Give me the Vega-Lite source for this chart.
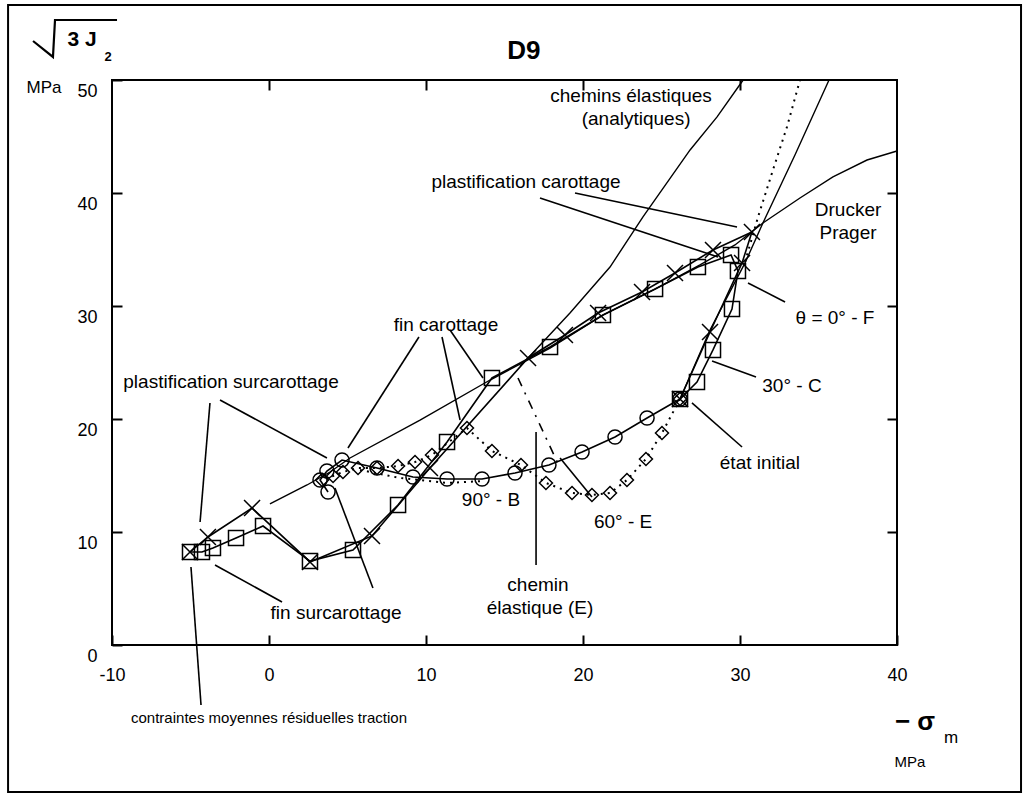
{
  "$schema": "https://vega.github.io/schema/vega-lite/v6.json",
  "width": 785,
  "height": 565,
  "autosize": {"type": "none"},
  "padding": {"left": 112, "top": 80, "right": 130, "bottom": 153},
  "background": "white",
  "config": {"view": {"stroke": "black", "strokeWidth": 2}, "font": "Liberation Sans"},
  "datasets": {
    "paths": [
      {"s": "F", "o": 1, "x": 26.18, "y": 21.77},
      {"s": "F", "o": 2, "x": 28.09, "y": 27.7},
      {"s": "F", "o": 3, "x": 30.13, "y": 33.81},
      {"s": "F", "o": 4, "x": 30.76, "y": 36.55},
      {"s": "F", "o": 5, "x": 28.28, "y": 34.96},
      {"s": "F", "o": 6, "x": 25.86, "y": 32.92},
      {"s": "F", "o": 7, "x": 23.76, "y": 31.24},
      {"s": "F", "o": 8, "x": 20.96, "y": 29.38},
      {"s": "F", "o": 9, "x": 18.85, "y": 27.43},
      {"s": "F", "o": 10, "x": 16.5, "y": 25.4},
      {"s": "F", "o": 11, "x": 10.25, "y": 15.66},
      {"s": "F", "o": 12, "x": 6.56, "y": 9.65},
      {"s": "F", "o": 13, "x": 2.61, "y": 7.35},
      {"s": "F", "o": 14, "x": -1.08, "y": 12.12},
      {"s": "F", "o": 15, "x": -3.89, "y": 9.56},
      {"s": "F", "o": 16, "x": -5.03, "y": 8.23},
      {"s": "C", "o": 1, "x": 26.18, "y": 21.77},
      {"s": "C", "o": 2, "x": 27.26, "y": 23.27},
      {"s": "C", "o": 3, "x": 28.28, "y": 26.11},
      {"s": "C", "o": 4, "x": 29.49, "y": 29.73},
      {"s": "C", "o": 5, "x": 29.87, "y": 33.1},
      {"s": "C", "o": 6, "x": 29.43, "y": 34.51},
      {"s": "C", "o": 7, "x": 27.32, "y": 33.45},
      {"s": "C", "o": 8, "x": 24.59, "y": 31.5},
      {"s": "C", "o": 9, "x": 21.27, "y": 29.2},
      {"s": "C", "o": 10, "x": 17.9, "y": 26.37},
      {"s": "C", "o": 11, "x": 14.2, "y": 23.63},
      {"s": "C", "o": 12, "x": 11.34, "y": 17.96},
      {"s": "C", "o": 13, "x": 8.22, "y": 12.39},
      {"s": "C", "o": 14, "x": 5.35, "y": 8.41},
      {"s": "C", "o": 15, "x": 2.61, "y": 7.43},
      {"s": "C", "o": 16, "x": -0.38, "y": 10.53},
      {"s": "C", "o": 17, "x": -2.1, "y": 9.47},
      {"s": "C", "o": 18, "x": -3.57, "y": 8.58},
      {"s": "C", "o": 19, "x": -4.27, "y": 8.23},
      {"s": "C", "o": 20, "x": -5.03, "y": 8.23},
      {"s": "B", "o": 1, "x": 26.18, "y": 21.77},
      {"s": "B", "o": 2, "x": 24.08, "y": 20.09},
      {"s": "B", "o": 3, "x": 22.04, "y": 18.41},
      {"s": "B", "o": 4, "x": 19.94, "y": 17.08},
      {"s": "B", "o": 5, "x": 17.83, "y": 15.93},
      {"s": "B", "o": 6, "x": 15.67, "y": 15.22},
      {"s": "B", "o": 7, "x": 13.57, "y": 14.69},
      {"s": "B", "o": 8, "x": 11.34, "y": 14.69},
      {"s": "B", "o": 9, "x": 9.17, "y": 14.87},
      {"s": "B", "o": 10, "x": 6.88, "y": 15.66},
      {"s": "B", "o": 11, "x": 4.65, "y": 16.37},
      {"s": "B", "o": 12, "x": 3.69, "y": 15.4},
      {"s": "B", "o": 13, "x": 3.25, "y": 14.6},
      {"s": "B", "o": 14, "x": 3.76, "y": 13.54},
      {"s": "E", "o": 1, "x": 26.18, "y": 21.77},
      {"s": "E", "o": 2, "x": 25.03, "y": 18.76},
      {"s": "E", "o": 3, "x": 24.01, "y": 16.46},
      {"s": "E", "o": 4, "x": 22.8, "y": 14.6},
      {"s": "E", "o": 5, "x": 21.72, "y": 13.45},
      {"s": "E", "o": 6, "x": 20.57, "y": 13.27},
      {"s": "E", "o": 7, "x": 19.3, "y": 13.45},
      {"s": "E", "o": 8, "x": 17.64, "y": 14.34},
      {"s": "E", "o": 9, "x": 16.05, "y": 15.93},
      {"s": "E", "o": 10, "x": 14.2, "y": 17.17},
      {"s": "E", "o": 11, "x": 12.61, "y": 19.2},
      {"s": "E", "o": 12, "x": 10.38, "y": 16.81},
      {"s": "E", "o": 13, "x": 9.3, "y": 16.19},
      {"s": "E", "o": 14, "x": 8.22, "y": 15.84},
      {"s": "E", "o": 15, "x": 6.88, "y": 15.66},
      {"s": "E", "o": 16, "x": 5.67, "y": 15.66},
      {"s": "E", "o": 17, "x": 4.71, "y": 15.31},
      {"s": "E", "o": 18, "x": 4.08, "y": 14.96},
      {"s": "E", "o": 19, "x": 3.38, "y": 14.6},
      {"s": "DP", "o": 1, "x": 0.06, "y": 12.48},
      {"s": "DP", "o": 2, "x": 2.42, "y": 14.16},
      {"s": "DP", "o": 3, "x": 3.89, "y": 15.31},
      {"s": "DP", "o": 4, "x": 5.16, "y": 16.55},
      {"s": "DP", "o": 5, "x": 9.62, "y": 19.91},
      {"s": "DP", "o": 6, "x": 14.08, "y": 23.45},
      {"s": "DP", "o": 7, "x": 17.9, "y": 26.28},
      {"s": "DP", "o": 8, "x": 21.27, "y": 29.2},
      {"s": "DP", "o": 9, "x": 24.59, "y": 31.5},
      {"s": "DP", "o": 10, "x": 27.45, "y": 33.63},
      {"s": "DP", "o": 11, "x": 29.68, "y": 35.4},
      {"s": "DP", "o": 12, "x": 31.46, "y": 37.35},
      {"s": "DP", "o": 13, "x": 33.82, "y": 39.56},
      {"s": "DP", "o": 14, "x": 35.92, "y": 41.42},
      {"s": "DP", "o": 15, "x": 38.09, "y": 42.92},
      {"s": "DP", "o": 16, "x": 40.0, "y": 43.72},
      {"s": "A1", "o": 1, "x": 16.5, "y": 25.4},
      {"s": "A1", "o": 2, "x": 19.17, "y": 29.38},
      {"s": "A1", "o": 3, "x": 21.72, "y": 33.45},
      {"s": "A1", "o": 4, "x": 23.82, "y": 37.88},
      {"s": "A1", "o": 5, "x": 26.82, "y": 43.81},
      {"s": "A1", "o": 6, "x": 28.54, "y": 46.73},
      {"s": "A1", "o": 7, "x": 30.2, "y": 50.0},
      {"s": "A2", "o": 1, "x": 26.18, "y": 21.77},
      {"s": "A2", "o": 2, "x": 28.09, "y": 27.88},
      {"s": "A2", "o": 3, "x": 30.32, "y": 33.81},
      {"s": "A2", "o": 4, "x": 31.46, "y": 37.35},
      {"s": "A2", "o": 5, "x": 33.5, "y": 43.36},
      {"s": "A2", "o": 6, "x": 35.67, "y": 50.0},
      {"s": "D", "o": 1, "x": 30.32, "y": 33.89},
      {"s": "D", "o": 2, "x": 31.15, "y": 37.88},
      {"s": "D", "o": 3, "x": 32.1, "y": 42.04},
      {"s": "D", "o": 4, "x": 32.99, "y": 45.84},
      {"s": "D", "o": 5, "x": 33.82, "y": 50.0},
      {"s": "B2", "o": 1, "x": 5.8, "y": 15.49},
      {"s": "B2", "o": 2, "x": 8.34, "y": 14.78},
      {"s": "B2", "o": 3, "x": 11.34, "y": 14.34},
      {"s": "B2", "o": 4, "x": 13.57, "y": 14.51},
      {"s": "EE", "o": 1, "x": 15.86, "y": 23.63},
      {"s": "EE", "o": 2, "x": 18.54, "y": 15.66}
    ],
    "leaders": [
      {"x": 19.49, "y": 40.0, "x2": 29.81, "y2": 36.99},
      {"x": 17.26, "y": 39.56, "x2": 28.6, "y2": 34.34},
      {"x": 30.51, "y": 32.04, "x2": 32.87, "y2": 30.35},
      {"x": 28.22, "y": 25.13, "x2": 31.02, "y2": 23.72},
      {"x": 26.94, "y": 21.42, "x2": 30.13, "y2": 17.52},
      {"x": 9.55, "y": 27.26, "x2": 5.03, "y2": 17.43},
      {"x": 11.02, "y": 27.26, "x2": 12.17, "y2": 19.91},
      {"x": 11.53, "y": 27.88, "x2": 13.63, "y2": 23.63},
      {"x": -3.76, "y": 21.42, "x2": -4.39, "y2": 10.88},
      {"x": -3.12, "y": 21.68, "x2": 3.69, "y2": 16.55},
      {"x": 18.54, "y": 16.55, "x2": 20.57, "y2": 13.1},
      {"x": 17.01, "y": 18.85, "x2": 17.01, "y2": 7.08},
      {"x": -3.44, "y": 7.08, "x2": 0.83, "y2": 3.81},
      {"x": 4.2, "y": 13.89, "x2": 6.62, "y2": 5.04},
      {"x": -4.97, "y": 6.9, "x2": -4.33, "y2": -5.31}
    ],
    "radical": [
      {"o": 1, "x": -15.03, "y": 53.45},
      {"o": 2, "x": -13.76, "y": 52.04},
      {"o": 3, "x": -13.63, "y": 55.31},
      {"o": 4, "x": -9.68, "y": 55.31}
    ],
    "labels": [
      {"t": "chemins élastiques", "x": 23.06, "y": 48.58},
      {"t": "(analytiques)", "x": 23.38, "y": 46.55},
      {"t": "plastification carottage", "x": 16.37, "y": 40.97},
      {"t": "Drucker", "x": 36.88, "y": 38.5},
      {"t": "Prager", "x": 36.88, "y": 36.46},
      {"t": "θ = 0° - F", "x": 36.05, "y": 28.94},
      {"t": "30° - C", "x": 33.31, "y": 22.92},
      {"t": "état initial", "x": 31.27, "y": 16.11},
      {"t": "fin carottage", "x": 11.27, "y": 28.32},
      {"t": "plastification surcarottage", "x": -2.42, "y": 23.27},
      {"t": "90° - B", "x": 14.14, "y": 12.83},
      {"t": "60° - E", "x": 22.55, "y": 10.88},
      {"t": "chemin", "x": 17.13, "y": 5.31},
      {"t": "élastique (E)", "x": 17.26, "y": 3.27},
      {"t": "fin surcarottage", "x": 4.27, "y": 2.83}
    ]
  },
  "layer": [
    {
      "data": {"values": [{"x": -16.62, "x2": 47.9, "y": 56.64, "y2": -13.01}]},
      "mark": {"type": "rect", "fillOpacity": 0, "stroke": "black", "strokeWidth": 2},
      "encoding": {
        "x": {"field": "x", "type": "quantitative", "scale": {"domain": [-10, 40], "nice": false, "zero": false}, "axis": null},
        "x2": {"field": "x2"},
        "y": {"field": "y", "type": "quantitative", "scale": {"domain": [0, 50], "nice": false, "zero": false}, "axis": null},
        "y2": {"field": "y2"}
      }
    },
    {
      "data": {"name": "paths"},
      "transform": [{"filter": "datum.s == 'DP'"}],
      "mark": {"type": "line", "stroke": "black", "strokeWidth": 1.4},
      "encoding": {
        "x": {"field": "x", "type": "quantitative", "scale": {"domain": [-10, 40], "nice": false, "zero": false},
          "axis": {"orient": "bottom", "values": [-10, 0, 10, 20, 30, 40], "tickSize": -10, "tickWidth": 2, "tickColor": "black", "domain": false, "grid": false, "labelFontSize": 18, "labelColor": "black", "labelPadding": 31, "labelDx": -5, "labelFlush": false, "labelOverlap": false, "labelBound": false, "title": null, "labelExpr": "'' + datum.value"}},
        "y": {"field": "y", "type": "quantitative", "scale": {"domain": [0, 50], "nice": false, "zero": false},
          "axis": {"orient": "left", "values": [0, 10, 20, 30, 40, 50], "tickSize": -10, "tickWidth": 2, "tickColor": "black", "domain": false, "grid": false, "labelFontSize": 18, "labelColor": "black", "labelPadding": 25, "labelOffset": 11, "labelFlush": false, "labelOverlap": false, "labelBound": false, "title": null}},
        "order": {"field": "o", "type": "quantitative"}
      }
    },
    {
      "data": {"name": "paths"},
      "transform": [{"filter": "datum.s == 'A1' || datum.s == 'A2'"}],
      "mark": {"type": "line", "stroke": "black", "strokeWidth": 1.4},
      "encoding": {
        "x": {"field": "x", "type": "quantitative", "scale": {"domain": [-10, 40], "nice": false, "zero": false},
          "axis": {"orient": "top", "values": [0, 10, 20, 30], "tickSize": -10, "tickWidth": 2, "tickColor": "black", "domain": false, "grid": false, "labels": false, "title": null}},
        "y": {"field": "y", "type": "quantitative", "scale": {"domain": [0, 50], "nice": false, "zero": false},
          "axis": {"orient": "right", "values": [10, 20, 30, 40], "tickSize": -10, "tickWidth": 2, "tickColor": "black", "domain": false, "grid": false, "labels": false, "title": null}},
        "detail": {"field": "s"},
        "order": {"field": "o", "type": "quantitative"}
      }
    },
    {
      "data": {"name": "paths"},
      "transform": [{"filter": "datum.s == 'F' || datum.s == 'C' || datum.s == 'B'"}],
      "mark": {"type": "line", "stroke": "black", "strokeWidth": 1.6},
      "encoding": {
        "x": {"field": "x", "type": "quantitative", "scale": {"domain": [-10, 40], "nice": false, "zero": false}, "axis": null},
        "y": {"field": "y", "type": "quantitative", "scale": {"domain": [0, 50], "nice": false, "zero": false}, "axis": null},
        "detail": {"field": "s"},
        "order": {"field": "o", "type": "quantitative"}
      }
    },
    {
      "data": {"name": "paths"},
      "transform": [{"filter": "datum.s == 'E' || datum.s == 'D' || datum.s == 'B2'"}],
      "mark": {"type": "line", "stroke": "black", "strokeWidth": 2, "strokeDash": [2, 5]},
      "encoding": {
        "x": {"field": "x", "type": "quantitative", "scale": {"domain": [-10, 40], "nice": false, "zero": false}, "axis": null},
        "y": {"field": "y", "type": "quantitative", "scale": {"domain": [0, 50], "nice": false, "zero": false}, "axis": null},
        "detail": {"field": "s"},
        "order": {"field": "o", "type": "quantitative"}
      }
    },
    {
      "data": {"name": "paths"},
      "transform": [{"filter": "datum.s == 'EE'"}],
      "mark": {"type": "line", "stroke": "black", "strokeWidth": 1.6, "strokeDash": [9, 7, 2, 7]},
      "encoding": {
        "x": {"field": "x", "type": "quantitative", "scale": {"domain": [-10, 40], "nice": false, "zero": false}, "axis": null},
        "y": {"field": "y", "type": "quantitative", "scale": {"domain": [0, 50], "nice": false, "zero": false}, "axis": null},
        "order": {"field": "o", "type": "quantitative"}
      }
    },
    {
      "data": {"name": "paths"},
      "transform": [{"filter": "datum.s == 'F' || datum.s == 'C' || datum.s == 'B' || datum.s == 'E'"}],
      "mark": {"type": "point", "filled": false, "stroke": "black", "strokeWidth": 1.5, "opacity": 1},
      "encoding": {
        "x": {"field": "x", "type": "quantitative", "scale": {"domain": [-10, 40], "nice": false, "zero": false}, "axis": null},
        "y": {"field": "y", "type": "quantitative", "scale": {"domain": [0, 50], "nice": false, "zero": false}, "axis": null},
        "shape": {"field": "s", "type": "nominal", "scale": {"domain": ["F", "C", "B", "E"], "range": ["M-1,-1L1,1M-1,1L1,-1", "square", "circle", "diamond"]}, "legend": null},
        "size": {"field": "s", "type": "nominal", "scale": {"domain": ["F", "C", "B", "E"], "range": [256, 169, 196, 121]}, "legend": null}
      }
    },
    {
      "data": {"name": "leaders"},
      "mark": {"type": "rule", "stroke": "black", "strokeWidth": 1.6},
      "encoding": {
        "x": {"field": "x", "type": "quantitative", "scale": {"domain": [-10, 40], "nice": false, "zero": false}, "axis": null},
        "y": {"field": "y", "type": "quantitative", "scale": {"domain": [0, 50], "nice": false, "zero": false}, "axis": null},
        "x2": {"field": "x2"},
        "y2": {"field": "y2"}
      }
    },
    {
      "data": {"name": "radical"},
      "mark": {"type": "line", "stroke": "black", "strokeWidth": 2.2},
      "encoding": {
        "x": {"field": "x", "type": "quantitative", "scale": {"domain": [-10, 40], "nice": false, "zero": false}, "axis": null},
        "y": {"field": "y", "type": "quantitative", "scale": {"domain": [0, 50], "nice": false, "zero": false}, "axis": null},
        "order": {"field": "o", "type": "quantitative"}
      }
    },
    {
      "data": {"name": "labels"},
      "mark": {"type": "text", "font": "Liberation Sans", "fontSize": 19, "color": "black", "align": "center", "baseline": "middle"},
      "encoding": {
        "x": {"field": "x", "type": "quantitative", "scale": {"domain": [-10, 40], "nice": false, "zero": false}, "axis": null},
        "y": {"field": "y", "type": "quantitative", "scale": {"domain": [0, 50], "nice": false, "zero": false}, "axis": null},
        "text": {"field": "t"}
      }
    },
    {
      "data": {"values": [
        {"t": "contraintes moyennes résiduelles traction", "x": 0.0, "y": -6.46},
        {"t": "MPa", "x": 40.83, "y": -10.35}
      ]},
      "mark": {"type": "text", "font": "Liberation Sans", "fontSize": 15, "color": "black", "align": "center", "baseline": "middle"},
      "encoding": {
        "x": {"field": "x", "type": "quantitative", "scale": {"domain": [-10, 40], "nice": false, "zero": false}, "axis": null},
        "y": {"field": "y", "type": "quantitative", "scale": {"domain": [0, 50], "nice": false, "zero": false}, "axis": null},
        "text": {"field": "t"}
      }
    },
    {
      "data": {"values": [
        {"t": "MPa", "x": -14.33, "y": 49.29},
        {"t": "m", "x": 43.44, "y": -8.23}
      ]},
      "mark": {"type": "text", "font": "Liberation Sans", "fontSize": 17, "color": "black", "align": "center", "baseline": "middle"},
      "encoding": {
        "x": {"field": "x", "type": "quantitative", "scale": {"domain": [-10, 40], "nice": false, "zero": false}, "axis": null},
        "y": {"field": "y", "type": "quantitative", "scale": {"domain": [0, 50], "nice": false, "zero": false}, "axis": null},
        "text": {"field": "t"}
      }
    },
    {
      "data": {"values": [
        {"t": "D9", "x": 16.24, "y": 52.57},
        {"t": "− σ", "x": 41.15, "y": -6.81}
      ]},
      "mark": {"type": "text", "font": "Liberation Sans", "fontSize": 26, "fontWeight": "bold", "color": "black", "align": "center", "baseline": "middle"},
      "encoding": {
        "x": {"field": "x", "type": "quantitative", "scale": {"domain": [-10, 40], "nice": false, "zero": false}, "axis": null},
        "y": {"field": "y", "type": "quantitative", "scale": {"domain": [0, 50], "nice": false, "zero": false}, "axis": null},
        "text": {"field": "t"}
      }
    },
    {
      "data": {"values": [
        {"t": "3 J", "x": -11.91, "y": 53.54}
      ]},
      "mark": {"type": "text", "font": "Liberation Sans", "fontSize": 21, "fontWeight": "bold", "color": "black", "align": "center", "baseline": "middle"},
      "encoding": {
        "x": {"field": "x", "type": "quantitative", "scale": {"domain": [-10, 40], "nice": false, "zero": false}, "axis": null},
        "y": {"field": "y", "type": "quantitative", "scale": {"domain": [0, 50], "nice": false, "zero": false}, "axis": null},
        "text": {"field": "t"}
      }
    },
    {
      "data": {"values": [
        {"t": "2", "x": -10.25, "y": 52.04}
      ]},
      "mark": {"type": "text", "font": "Liberation Sans", "fontSize": 13, "fontWeight": "bold", "color": "black", "align": "center", "baseline": "middle"},
      "encoding": {
        "x": {"field": "x", "type": "quantitative", "scale": {"domain": [-10, 40], "nice": false, "zero": false}, "axis": null},
        "y": {"field": "y", "type": "quantitative", "scale": {"domain": [0, 50], "nice": false, "zero": false}, "axis": null},
        "text": {"field": "t"}
      }
    }
  ],
  "resolve": {"axis": {"x": "independent", "y": "independent"}}
}
